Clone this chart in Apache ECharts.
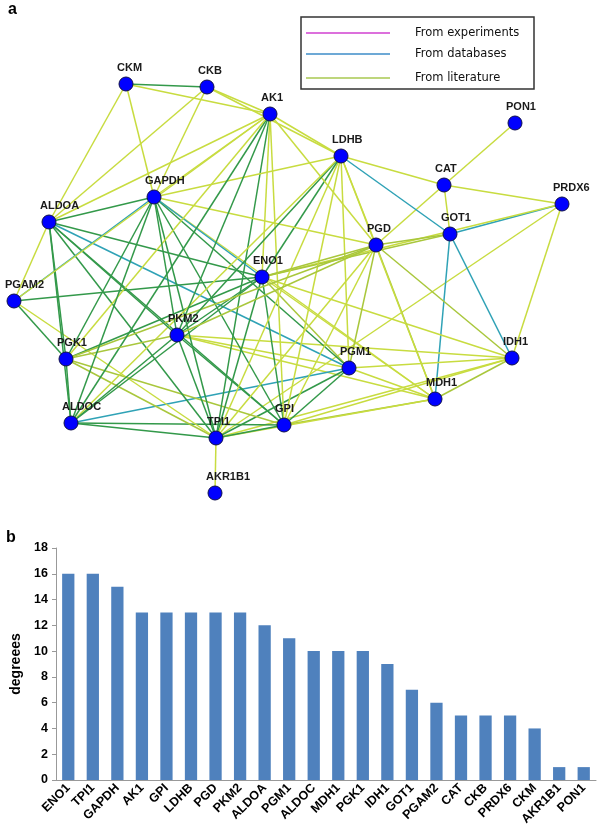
<!DOCTYPE html>
<html>
<head>
<meta charset="utf-8">
<script src="https://cdn.jsdelivr.net/npm/echarts@6/dist/echarts.min.js"></script>
<style>html,body{margin:0;padding:0;background:#fff}#c{width:600px;height:836px}</style>
</head>
<body>
<div id="c"></div>
<script>
// ---- Panel a: network nodes (layout coordinates) ----
const nodeNames = ['CKM','CKB','AK1','PON1','LDHB','CAT','PRDX6','GAPDH','ALDOA','GOT1','PGD','ENO1','PGAM2','PKM2','PGK1','PGM1','IDH1','MDH1','ALDOC','TPI1','GPI','AKR1B1'];
const nodeX = [126,207,270,515,341,444,562,154,49,450,376,262,14,177,66,349,512,435,71,216,284,215];
const nodeY = [84,87,114,123,156,185,204,197,222,234,245,277,301,335,359,368,358,399,423,438,425,493];
// edge evidence: L literature, O literature (strong), G combined, D databases
const edges = [
['PON1','CAT','L'],['AKR1B1','TPI1','L'],['CKM','CKB','G'],['CKM','AK1','L'],['CKM','GAPDH','L'],['CKM','ALDOA','L'],
['CKB','AK1','L'],['CKB','GAPDH','L'],['CKB','ALDOA','L'],['CKB','LDHB','L'],['CAT','LDHB','L'],['CAT','PRDX6','L'],
['CAT','GOT1','L'],['CAT','PGD','L'],['PRDX6','GOT1','D'],['PRDX6','IDH1','L'],['PRDX6','TPI1','L'],['PRDX6','ENO1','L'],
['GOT1','LDHB','D'],['GOT1','MDH1','D'],['GOT1','IDH1','D'],['GOT1','PGD','O'],['GOT1','ENO1','O'],['IDH1','MDH1','O'],
['IDH1','PGM1','L'],['IDH1','GPI','L'],['IDH1','PGD','O'],['IDH1','ENO1','L'],['IDH1','PKM2','L'],['IDH1','TPI1','L'],
['MDH1','PGM1','L'],['MDH1','GPI','O'],['MDH1','TPI1','L'],['MDH1','PGD','O'],['MDH1','LDHB','L'],['MDH1','GAPDH','L'],
['MDH1','PKM2','L'],['MDH1','ENO1','L'],['PGM1','GPI','G'],['PGM1','TPI1','G'],['PGM1','ALDOA','D'],['PGM1','ALDOC','D'],
['PGM1','PGD','O'],['PGM1','LDHB','L'],['PGM1','ENO1','O'],['PGM1','PKM2','L'],['PGM1','GAPDH','G'],['GPI','TPI1','G'],
['GPI','PKM2','G'],['GPI','ENO1','G'],['GPI','GAPDH','G'],['GPI','ALDOA','G'],['GPI','ALDOC','G'],['GPI','PGK1','O'],
['GPI','AK1','L'],['GPI','LDHB','L'],['GPI','PGD','L'],['TPI1','ALDOC','G'],['TPI1','PGK1','O'],['TPI1','PKM2','G'],
['TPI1','ENO1','G'],['TPI1','GAPDH','G'],['TPI1','ALDOA','G'],['TPI1','AK1','G'],['TPI1','LDHB','L'],['TPI1','PGD','L'],
['TPI1','PGAM2','L'],['ENO1','PGD','O'],['ENO1','LDHB','G'],['ENO1','AK1','L'],['ENO1','PKM2','G'],['ENO1','GAPDH','D'],
['ENO1','ALDOA','G'],['ENO1','ALDOC','G'],['ENO1','PGK1','G'],['ENO1','PGAM2','G'],['PGD','LDHB','L'],['PGD','AK1','L'],
['PGD','PKM2','O'],['PGD','GAPDH','L'],['PGD','PGK1','O'],['LDHB','AK1','L'],['LDHB','PKM2','G'],['LDHB','GAPDH','L'],
['LDHB','ALDOC','L'],['AK1','PKM2','G'],['AK1','GAPDH','L'],['AK1','ALDOA','L'],['AK1','ALDOC','G'],['AK1','PGK1','L'],
['PKM2','GAPDH','G'],['PKM2','ALDOA','G'],['PKM2','ALDOC','G'],['PKM2','PGK1','O'],['GAPDH','ALDOA','G'],['GAPDH','ALDOC','G'],
['GAPDH','PGK1','G'],['GAPDH','PGAM2','D'],['ALDOA','ALDOC','G'],['ALDOA','PGK1','G'],['ALDOA','PGAM2','L'],['ALDOC','PGK1','G'],
['PGAM2','PGK1','G'],['PGAM2','AK1','L']
];
const legendLabels = ['From experiments','From databases','From literature'];

// ---- Panel b: degree bar chart ----
const genes = ['ENO1','TPI1','GAPDH','AK1','GPI','LDHB','PGD','PKM2','ALDOA','PGM1','ALDOC','MDH1','PGK1','IDH1','GOT1','PGAM2','CAT','CKB','PRDX6','CKM','AKR1B1','PON1'];
const degrees = [16,16,15,13,13,13,13,13,12,11,10,10,10,9,7,6,5,5,5,4,1,1];

const edgeColors = {L:'#c8dc40', O:'#a9c73c', G:'#33994a', D:'#2fa2b6'};
const legendColors = ['#d040d0','#3c8cc8','#a8c850'];
const FONT = 'Liberation Sans, Arial, sans-serif';

const chart = echarts.init(document.getElementById('c'), null, {renderer:'canvas'});

const graphNodes = nodeNames.map((n,i)=>({name:n, value:[nodeX[i], nodeY[i]]}));
const graphLinks = edges.map(e=>({source:e[0], target:e[1], lineStyle:{color:edgeColors[e[2]]}}));

const legendGraphics = [{type:'rect', shape:{x:301,y:17,width:233,height:72}, style:{fill:'#fff', stroke:'#333', lineWidth:1.5}}];
legendLabels.forEach((t,i)=>{
  const yy = [33,54,78][i];
  legendGraphics.push({type:'line', shape:{x1:306,y1:yy,x2:390,y2:yy}, style:{stroke:legendColors[i], lineWidth:1.5}});
  legendGraphics.push({type:'text', x:415, y:yy, style:{text:t, fill:'#111', font:'11.5px "DejaVu Sans", sans-serif', textVerticalAlign:'middle', textBaseline:'middle'}});
});

chart.setOption({
  animation:false,
  backgroundColor:'#fff',
  grid:[
    {left:0, top:0, width:600, height:520},
    {left:56, top:548, right:4, bottom:56}
  ],
  xAxis:[
    {gridIndex:0, type:'value', min:0, max:600, show:false},
    {gridIndex:1, type:'category', data:genes,
     axisLine:{lineStyle:{color:'#999'}}, axisTick:{show:false},
     axisLabel:{rotate:45, interval:0, fontFamily:FONT, fontWeight:'bold', fontSize:12.5, color:'#000', margin:6}}
  ],
  yAxis:[
    {gridIndex:0, type:'value', min:0, max:520, inverse:true, show:false},
    {gridIndex:1, type:'value', min:0, max:18, interval:2,
     name:'degreees', nameLocation:'middle', nameGap:32, nameRotate:90,
     nameTextStyle:{fontFamily:FONT, fontWeight:'bold', fontSize:14, color:'#000'},
     axisLine:{show:true, lineStyle:{color:'#999'}}, axisTick:{show:true, length:4, lineStyle:{color:'#999'}},
     splitLine:{show:false},
     axisLabel:{fontFamily:FONT, fontWeight:'bold', fontSize:12.5, color:'#000', margin:8}}
  ],
  series:[
    {type:'graph', coordinateSystem:'cartesian2d', xAxisIndex:0, yAxisIndex:0,
     symbol:'circle', symbolSize:14,
     itemStyle:{color:'#0000ff', borderColor:'#10104a', borderWidth:1},
     label:{show:true, position:'top', align:'left', offset:[-9,0], distance:3, fontFamily:FONT, fontWeight:'bold', fontSize:11, color:'#1a1a1a'},
     lineStyle:{width:1.5, opacity:1},
     data:graphNodes, links:graphLinks, z:3},
    {type:'bar', xAxisIndex:1, yAxisIndex:1, data:degrees, barWidth:'50%', itemStyle:{color:'#4f81bd'}}
  ],
  graphic:[
    ...legendGraphics,
    {type:'text', x:8, y:2, style:{text:'a', fill:'#000', font:'bold 16px "Liberation Sans", Arial, sans-serif'}},
    {type:'text', x:6, y:530, style:{text:'b', fill:'#000', font:'bold 16px "Liberation Sans", Arial, sans-serif'}}
  ]
});
</script>
</body>
</html>
